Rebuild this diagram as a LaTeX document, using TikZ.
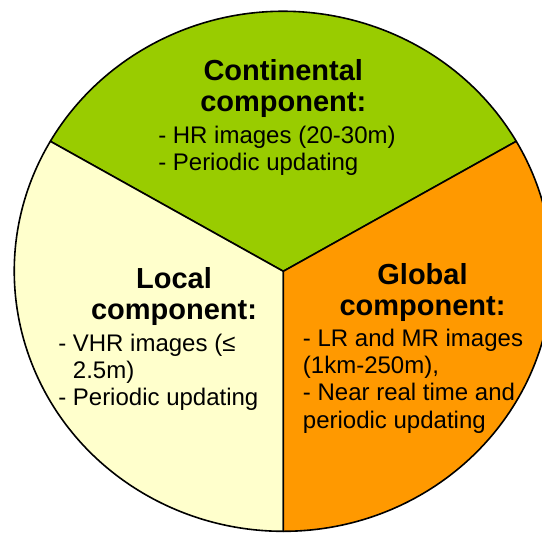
\documentclass[tikz,border=0pt]{standalone}
\usepackage{fontspec}
\setmainfont{Liberation Sans}
\usepackage[dvipsnames]{xcolor}
\usepackage{tikz}

\definecolor{contgreen}{HTML}{99CC00}
\definecolor{globorange}{HTML}{FF9900}
\definecolor{localcream}{HTML}{FFFFCC}

\begin{document}
\begin{tikzpicture}[x=0.75pt, y=0.75pt,
	sector/.style={draw=black, line width=1.2pt, line join=round},
	compname/.style={anchor=north, align=center, inner sep=0pt, font=\fontsize{21.75}{23.5}\selectfont\bfseries},
	compitem/.style={anchor=north west, align=left, inner sep=0pt, font=\fontsize{18}{20.5}\selectfont}]

	\useasboundingbox (-283.3,-261.7) rectangle (258.7,271.3);
	\clip (-283.3,-261.7) rectangle (258.7,271.3);

	% the three sectors
	\filldraw[sector, fill=contgreen] (0,0) -- (30:269 and 260) arc[start angle=30, end angle=150, x radius=269, y radius=260] -- cycle;
	\filldraw[sector, fill=localcream] (0,0) -- (150:269 and 260) arc[start angle=150, end angle=270, x radius=269, y radius=260] -- cycle;
	\filldraw[sector, fill=globorange] (0,0) -- (270:269 and 260) arc[start angle=270, end angle=390, x radius=269, y radius=260] -- cycle;

	\node[compname] (conttitle) at (0,212.3) {Continental\\component:};
	\node[compitem] (contitems) at (-125.3,145.8) {- HR images (20-30m)\\- Periodic updating};

	\node[compname] (localtitle) at (-109.3,4.3) {Local\\component:};
	\node[compitem] (localitems) at (-225.3,-62.2) {- VHR images (≤\\\hphantom{-~}2.5m)\\- Periodic updating};

	\node[compname] (globtitle) at (139.2,8.3) {Global\\component:};
	\node[compitem] (globitems) at (19.4,-57.2) {- LR and MR images\\(1km-250m),\\- Near real time and\\periodic updating};

\end{tikzpicture}
\end{document}
